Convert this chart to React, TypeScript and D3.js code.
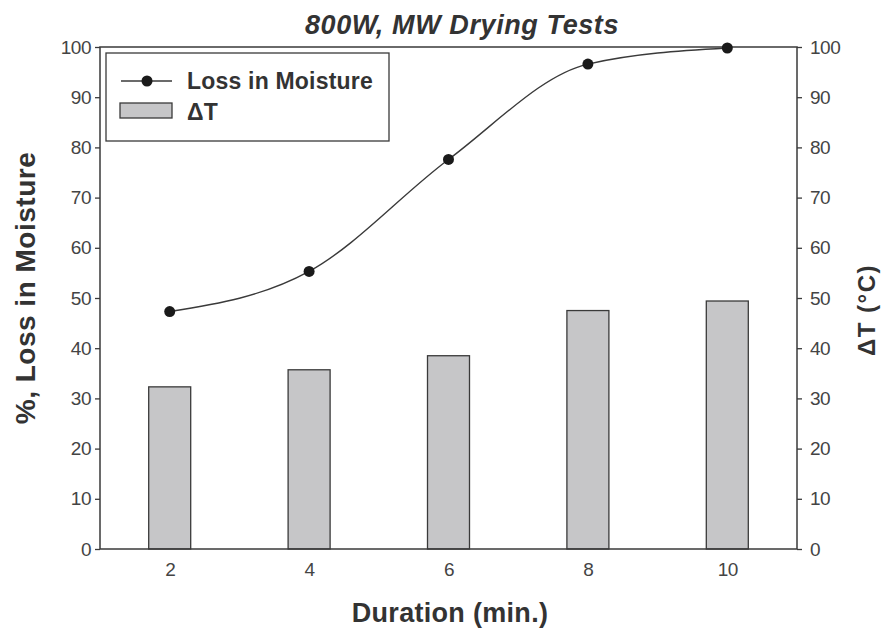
import React from "react";
import * as d3 from "d3";

const durations = [2, 4, 6, 8, 10];
const moistureLoss = [47.3, 55.3, 77.6, 96.6, 99.8];
const deltaT = [32.3, 35.7, 38.5, 47.5, 49.4];
const yTicks = [0, 10, 20, 30, 40, 50, 60, 70, 80, 90, 100];

const W = 882,
  H = 630;
const margin = { left: 100, right: 85, top: 47, bottom: 81 };

const App = () => {
  const ref = React.useRef<SVGSVGElement>(null);

  React.useEffect(() => {
    const svg = d3.select(ref.current);
    svg.selectAll("*").remove();

    const x = d3.scaleLinear().domain([1, 11]).range([margin.left, W - margin.right]);
    const yL = d3.scaleLinear().domain([0, 100]).range([H - margin.bottom, margin.top]);
    const yR = d3.scaleLinear().domain([0, 100]).range([H - margin.bottom, margin.top]);
    const barW = 42;
    const ink = "#3a3a3a";
    const font = "Liberation Sans, Arial, sans-serif";

    svg.append("rect").attr("width", W).attr("height", H).attr("fill", "#fff");

    // bars (delta T)
    svg
      .append("g")
      .selectAll("rect")
      .data(durations)
      .join("rect")
      .attr("x", (d) => x(d) - barW / 2)
      .attr("y", (d, i) => yR(deltaT[i]))
      .attr("width", barW)
      .attr("height", (d, i) => yR(0) - yR(deltaT[i]))
      .attr("fill", "#c6c6c8")
      .attr("stroke", ink)
      .attr("stroke-width", 1.3);

    // frame
    svg
      .append("rect")
      .attr("x", margin.left)
      .attr("y", margin.top)
      .attr("width", W - margin.left - margin.right)
      .attr("height", H - margin.top - margin.bottom)
      .attr("fill", "none")
      .attr("stroke", ink)
      .attr("stroke-width", 1.5);

    // moisture curve
    const line = d3
      .line<number>()
      .x((d) => x(d))
      .y((d, i) => yL(moistureLoss[i]))
      .curve(d3.curveMonotoneX);
    svg
      .append("path")
      .attr("d", line(durations))
      .attr("fill", "none")
      .attr("stroke", ink)
      .attr("stroke-width", 1.4);
    svg
      .append("g")
      .selectAll("circle")
      .data(durations)
      .join("circle")
      .attr("cx", (d) => x(d))
      .attr("cy", (d, i) => yL(moistureLoss[i]))
      .attr("r", 5.5)
      .attr("fill", "#1a1a1a");

    // axes
    const styleAxis = (g) => {
      g.select(".domain").remove();
      g.selectAll("line").attr("stroke", ink).attr("stroke-width", 1.3);
      g.selectAll("text")
        .attr("fill", "#444")
        .style("font-family", font)
        .style("font-size", "19px")
        .style("letter-spacing", "-0.5px");
    };
    svg
      .append("g")
      .attr("transform", `translate(${margin.left},0)`)
      .call(d3.axisLeft(yL).tickValues(yTicks).tickSize(5).tickPadding(4))
      .call(styleAxis);
    svg
      .append("g")
      .attr("transform", `translate(${W - margin.right},0)`)
      .call(d3.axisRight(yR).tickValues(yTicks).tickSize(5).tickPadding(8))
      .call(styleAxis);
    svg
      .append("g")
      .attr("transform", `translate(0,${H - margin.bottom})`)
      .call(d3.axisBottom(x).tickValues(durations).tickSize(0).tickPadding(14))
      .call(styleAxis);

    // titles
    svg
      .append("text")
      .attr("x", 462)
      .attr("y", 34)
      .attr("text-anchor", "middle")
      .attr("fill", "#333")
      .style("font-family", font)
      .style("font-size", "27px")
      .style("font-weight", "bold")
      .style("font-style", "italic")
      .style("letter-spacing", "0.6px")
      .text("800W, MW Drying Tests");
    svg
      .append("text")
      .attr("x", 450)
      .attr("y", 622)
      .attr("text-anchor", "middle")
      .attr("fill", "#333")
      .style("font-family", font)
      .style("font-size", "27px")
      .style("font-weight", "bold")
      .style("letter-spacing", "0.3px")
      .text("Duration (min.)");
    svg
      .append("text")
      .attr("transform", `translate(35,288) rotate(-90)`)
      .attr("text-anchor", "middle")
      .attr("fill", "#333")
      .style("font-family", font)
      .style("font-size", "28px")
      .style("font-weight", "bold")
      .style("letter-spacing", "0.5px")
      .text("%, Loss in Moisture");
    svg
      .append("text")
      .attr("transform", `translate(875,310) rotate(-90)`)
      .attr("text-anchor", "middle")
      .attr("fill", "#333")
      .style("font-family", font)
      .style("font-size", "24px")
      .style("font-weight", "bold")
      .style("letter-spacing", "1.5px")
      .text("ΔT (°C)");

    // legend
    const lg = svg.append("g");
    lg.append("rect")
      .attr("x", 106)
      .attr("y", 53)
      .attr("width", 283)
      .attr("height", 88)
      .attr("fill", "#fff")
      .attr("stroke", ink)
      .attr("stroke-width", 1.3);
    lg.append("line")
      .attr("x1", 121)
      .attr("x2", 172)
      .attr("y1", 81)
      .attr("y2", 81)
      .attr("stroke", ink)
      .attr("stroke-width", 1.4);
    lg.append("circle").attr("cx", 147).attr("cy", 81).attr("r", 5.5).attr("fill", "#1a1a1a");
    lg.append("rect")
      .attr("x", 120)
      .attr("y", 103)
      .attr("width", 52)
      .attr("height", 15)
      .attr("fill", "#c6c6c8")
      .attr("stroke", ink)
      .attr("stroke-width", 1.3);
    lg.selectAll("text.lbl")
      .data(["Loss in Moisture", "ΔT"])
      .join("text")
      .attr("class", "lbl")
      .attr("x", 187)
      .attr("y", (d, i) => 89 + i * 31)
      .attr("fill", "#333")
      .style("font-family", font)
      .style("font-size", "23px")
      .style("font-weight", "bold")
      .style("letter-spacing", "0.2px")
      .text((d) => d);
  }, []);

  return (
    <svg ref={ref} width={W} height={H} style={{ display: "block", position: "absolute", left: 0, top: 0 }} />
  );
};

export default App;
